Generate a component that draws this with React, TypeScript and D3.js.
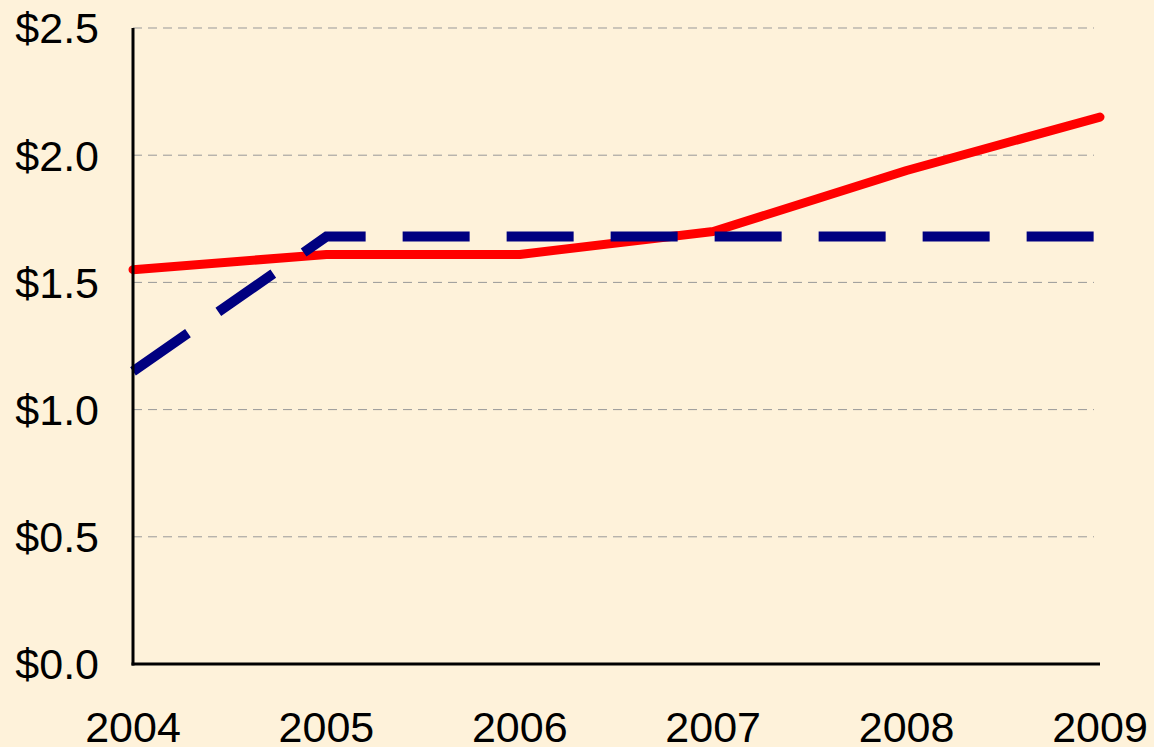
import React from "react";
import * as d3 from "d3";

const years = [2004, 2005, 2006, 2007, 2008, 2009];
const redSeries = [1.55, 1.61, 1.61, 1.70, 1.94, 2.15];
const blueSeries = [1.15, 1.68, 1.68, 1.68, 1.68, 1.68];
const yTicks = [0, 0.5, 1.0, 1.5, 2.0, 2.5];

const W = 1154;
const H = 747;

export default function App() {
  const x = d3.scaleLinear().domain([2004, 2009]).range([133, 1100]);
  const y = d3.scaleLinear().domain([0, 2.5]).range([664, 28]);
  const line = d3
    .line<number>()
    .x((_, i) => x(years[i]))
    .y((d) => y(d));
  const font = "'Liberation Sans', Arial, sans-serif";
  const fs = 43;
  return (
    <svg
      width={W}
      height={H}
      style={{ position: "absolute", left: 0, top: 0, display: "block" }}
    >
      <rect x={0} y={0} width={W} height={H} fill="#FEF2DA" />
      {yTicks
        .filter((t) => t > 0)
        .map((t) => (
          <line
            key={"g" + t}
            x1={x(2004)}
            x2={1094}
            y1={y(t)}
            y2={y(t)}
            stroke="#999999"
            strokeWidth={1}
            strokeDasharray="9,6"
          />
        ))}
      {yTicks.map((t) => (
        <text
          key={"yl" + t}
          x={99}
          y={y(t) + fs * 0.358}
          textAnchor="end"
          fontFamily={font}
          fontSize={fs}
          fill="#000"
        >
          {"$" + t.toFixed(1)}
        </text>
      ))}
      {years.map((yr) => (
        <text
          key={"xl" + yr}
          x={x(yr)}
          y={742}
          textAnchor="middle"
          fontFamily={font}
          fontSize={fs}
          fill="#000"
        >
          {yr}
        </text>
      ))}
      <path
        d={line(redSeries) || ""}
        fill="none"
        stroke="#FF0000"
        strokeWidth={9}
        strokeLinecap="round"
        strokeLinejoin="round"
      />
      <path
        d={line(blueSeries) || ""}
        fill="none"
        stroke="#000080"
        strokeWidth={10}
        strokeLinecap="butt"
        strokeLinejoin="miter"
        strokeDasharray="67,37"
      />
      <line x1={x(2004)} x2={x(2004)} y1={y(2.5)} y2={y(0) + 1.5} stroke="#000" strokeWidth={3} />
      <line x1={x(2004) - 1.5} x2={x(2009)} y1={y(0)} y2={y(0)} stroke="#000" strokeWidth={3} />
    </svg>
  );
}
